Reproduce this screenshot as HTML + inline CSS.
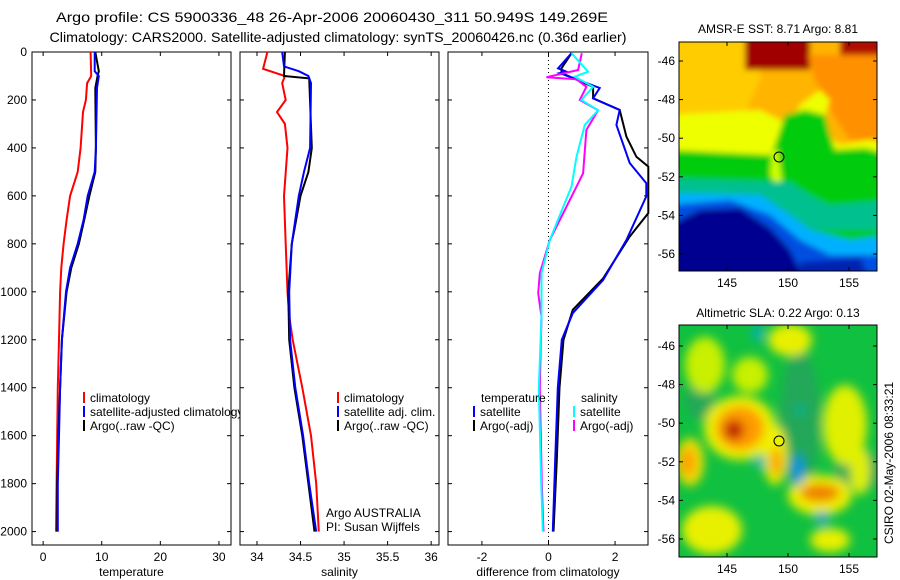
<!DOCTYPE html>
<html><head><meta charset="utf-8"><style>
body{margin:0;background:#fff;}
svg{display:block;font-family:"Liberation Sans",sans-serif;}
</style></head><body>
<svg id="fig" width="900" height="580" viewBox="0 0 900 580">
<defs>
<filter id="bl1" filterUnits="userSpaceOnUse" x="660" y="20" width="240" height="280"><feGaussianBlur stdDeviation="3"/></filter>
<filter id="bl2" filterUnits="userSpaceOnUse" x="660" y="300" width="240" height="280"><feGaussianBlur stdDeviation="5"/></filter>
<clipPath id="c1"><rect x="679" y="42" width="198" height="229"/></clipPath>
<clipPath id="c2"><rect x="679" y="325" width="198" height="232"/></clipPath>
</defs>
<text x="332" y="22" font-size="14" text-anchor="middle" textLength="552" lengthAdjust="spacingAndGlyphs">Argo profile: CS 5900336_48 26-Apr-2006 20060430_311 50.949S 149.269E</text>
<text x="338" y="42" font-size="14" text-anchor="middle" textLength="577" lengthAdjust="spacingAndGlyphs">Climatology: CARS2000. Satellite-adjusted climatology: synTS_20060426.nc (0.36d earlier)</text>
<g id="panels"></g>

<!-- SST map -->
<text x="778" y="33" font-size="12" text-anchor="middle">AMSR-E SST: 8.71 Argo: 8.81</text>
<g clip-path="url(#c1)">
<g filter="url(#bl1)">
<rect x="670" y="35" width="220" height="245" fill="#ffb400"/>
<polygon points="670,35 765,35 760,80 740,125 670,125" fill="#ffcc00"/>
<polygon points="745,35 810,35 810,70 745,70" fill="#a00000"/>
<polygon points="840,35 890,35 890,62 840,62" fill="#b01000"/>
<polygon points="808,55 890,55 890,140 850,140 830,110 815,80" fill="#ff9000"/>
<polygon points="670,115 760,110 790,125 800,105 820,90 830,100 820,130 840,145 870,140 890,145 890,185 670,185" fill="#eeff00"/>
<polygon points="670,150 770,155 775,145 785,115 805,110 825,115 830,135 835,150 865,148 890,155 890,260 670,260" fill="#00cc10"/>
<polygon points="772,150 778,150 782,180 776,185 770,175" fill="#ccff00"/>
<polygon points="670,178 790,182 810,195 830,205 890,200 890,230 670,230" fill="#00c090"/>
<polygon points="670,193 760,195 790,215 810,230 850,240 890,235 890,280 670,280" fill="#00b0ff"/>
<polygon points="670,205 730,200 770,215 800,240 830,255 890,255 890,280 670,280" fill="#0050e0"/>
<polygon points="670,225 700,210 740,208 770,228 790,250 800,270 800,280 670,280" fill="#000090"/>
<polygon points="800,262 860,258 870,280 800,280" fill="#0020b0"/>
</g>
</g>
<rect x="679" y="42" width="198" height="229" fill="none" stroke="#000"/>
<circle cx="779" cy="157" r="5" fill="none" stroke="#000"/>
<g id="m1ax"></g>

<!-- SLA map -->
<text x="778" y="317" font-size="12" text-anchor="middle">Altimetric SLA: 0.22 Argo: 0.13</text>
<g clip-path="url(#c2)">
<rect x="670" y="320" width="220" height="245" fill="#10c040"/>
<g filter="url(#bl2)">
<ellipse cx="800" cy="420" rx="20" ry="70" fill="#20a858"/>
<ellipse cx="860" cy="470" rx="25" ry="20" fill="#20a858"/>
<ellipse cx="700" cy="400" rx="15" ry="20" fill="#20a858"/>
<ellipse cx="705" cy="365" rx="20" ry="28" fill="#c8f000"/>
<ellipse cx="790" cy="340" rx="22" ry="16" fill="#e8f000"/>
<ellipse cx="750" cy="375" rx="18" ry="18" fill="#c8f000"/>
<ellipse cx="845" cy="425" rx="22" ry="40" fill="#e0f000"/>
<ellipse cx="860" cy="470" rx="10" ry="25" fill="#e0f000"/>
<ellipse cx="740" cy="428" rx="36" ry="32" fill="#eef000"/>
<ellipse cx="740" cy="428" rx="24" ry="22" fill="#ff9a00"/>
<ellipse cx="734" cy="430" rx="10" ry="10" fill="#c02000"/>
<ellipse cx="690" cy="462" rx="14" ry="24" fill="#f0e000"/>
<ellipse cx="688" cy="462" rx="7" ry="14" fill="#ff9a00"/>
<ellipse cx="775" cy="455" rx="12" ry="30" fill="#f0f000"/>
<ellipse cx="776" cy="462" rx="5" ry="14" fill="#ff9000"/>
<ellipse cx="820" cy="495" rx="32" ry="20" fill="#f0f000"/>
<ellipse cx="820" cy="493" rx="20" ry="9" fill="#f08000"/>
<ellipse cx="712" cy="530" rx="30" ry="24" fill="#e8f000"/>
<ellipse cx="830" cy="540" rx="20" ry="12" fill="#e8f000"/>
<ellipse cx="798" cy="470" rx="6" ry="16" fill="#1090e0"/>
<ellipse cx="760" cy="462" rx="6" ry="6" fill="#00b0c0"/>
<ellipse cx="822" cy="518" rx="6" ry="7" fill="#10a0d0"/>
<ellipse cx="758" cy="333" rx="5" ry="9" fill="#00b0c0"/>
<ellipse cx="800" cy="410" rx="5" ry="6" fill="#00b090"/>
</g>
</g>
<rect x="679" y="325" width="198" height="232" fill="none" stroke="#000"/>
<circle cx="779" cy="441" r="5" fill="#e8f000" stroke="#000"/>
<g id="m2ax"></g>
<text transform="translate(893,463) rotate(-90)" font-size="12" text-anchor="middle">CSIRO 02-May-2006 08:33:21</text>
</svg>
<script>
var NS="http://www.w3.org/2000/svg";
// ---- data ----
var tempClimDepth=[0,100,130,200,250,400,500,600,700,800,900,1000,1200,1400,1600,1800,2000];
var tempClimVal=[8.1,8.2,7.5,7.3,6.8,6.4,5.9,4.6,4.0,3.5,3.1,2.9,2.7,2.5,2.4,2.3,2.2];
var tempSatDepth=[0,80,100,150,400,500,600,700,800,900,1000,1200,1400,1600,1800,2000];
var tempSatVal=[8.8,8.8,9.5,9.2,9.0,8.8,7.6,6.9,5.9,4.6,3.9,3.2,2.9,2.7,2.5,2.5];
var tempArgoDepth=[0,80,100,150,400,500,600,700,800,900,1000,1200,1400,1600,1800,2000];
var tempArgoVal=[8.9,9.5,9.3,8.9,9.0,8.9,7.9,7.0,6.1,4.8,4.0,3.2,2.9,2.6,2.4,2.4];
var salClimDepth=[0,70,100,130,200,250,300,400,600,800,1000,1100,1200,1400,1600,1800,2000];
var salClimVal=[34.12,34.07,34.32,34.29,34.33,34.23,34.32,34.35,34.31,34.33,34.35,34.37,34.41,34.52,34.62,34.68,34.71];
var salSatDepth=[0,60,80,100,130,400,500,600,800,1000,1200,1400,1600,1800,2000];
var salSatVal=[34.29,34.31,34.48,34.59,34.62,34.61,34.54,34.48,34.40,34.37,34.38,34.44,34.53,34.60,34.68];
var salArgoDepth=[0,100,110,400,500,600,800,1000,1200,1400,1600,1800,2000];
var salArgoVal=[34.32,34.31,34.60,34.63,34.59,34.50,34.40,34.36,34.37,34.43,34.52,34.59,34.66];
var dTSatDepth=[5,68,82,88,150,193,242,304,463,547,602,784,951,1089,1200,1400,1700,2000];
var dTSatVal=[0.69,0.29,0.54,0.34,1.54,1.34,2.14,2.04,2.44,2.94,2.94,2.34,1.64,0.73,0.4,0.28,0.2,0.13];
var dTArgoDepth=[5,68,88,145,193,242,353,437,478,672,770,944,1075,1200,1400,1700,2000];
var dTArgoVal=[0.69,0.39,0.39,1.34,1.34,2.14,2.34,2.64,3.0,3.0,2.44,1.64,0.73,0.45,0.33,0.25,0.15];
var dSArgoDepth=[5,75,105,114,145,200,243,325,506,645,784,923,1006,1104,1400,1800,2000];
var dSArgoVal=[1.0,0.89,-0.06,0.84,1.14,0.94,1.49,1.14,1.04,0.54,0.04,-0.26,-0.31,-0.21,-0.26,-0.2,-0.15];
var dSSatDepth=[5,82,103,145,200,243,304,437,561,784,923,1104,1400,1800,2000];
var dSSatVal=[0.69,1.19,0.79,1.34,0.99,1.49,1.09,0.84,0.69,0.04,-0.21,-0.21,-0.29,-0.22,-0.17];
var depthTicks=[0,200,400,600,800,1000,1200,1400,1600,1800,2000];
var tempTicks=[0,10,20,30];
var salTicks=[34,34.5,35,35.5,36];
var diffTicks=[-2,0,2];
// ---- axes ----
function yD(d){return 52+d*0.2398;}
var P=[
 {x0:32,x1:231,v0:-1.9,v1:32.06,ticks:tempTicks,label:"temperature",name:"temperature-panel"},
 {x0:240,x1:439,v0:33.805,v1:36.09,ticks:salTicks,label:"salinity",name:"salinity-panel"},
 {x0:448,x1:648,v0:-3.02,v1:2.99,ticks:diffTicks,label:"difference from climatology",name:"difference-panel"}
];
function xS(p,v){return p.x0+(v-p.v0)/(p.v1-p.v0)*(p.x1-p.x0);}
var root=document.getElementById('panels');
function mk(tag,attrs,parent){var e=document.createElementNS(NS,tag);for(var k in attrs)e.setAttribute(k,attrs[k]);(parent||root).appendChild(e);return e;}
function txt(x,y,s,anchor,parent,size){var t=mk('text',{x:x,y:y,'font-size':size||12,'text-anchor':anchor||'start'},parent);t.textContent=s;return t;}
P.forEach(function(p,i){
 var g=mk('g',{});
 
 
 var bg=mk('rect',{x:p.x0,y:52,width:p.x1-p.x0,height:493,fill:'#fff',stroke:'#000'},g);
 
 
 p.g=g;
 depthTicks.forEach(function(d){
  var y=yD(d);
  mk('line',{x1:p.x0,x2:p.x0+4,y1:y,y2:y,stroke:'#000'},g);
  mk('line',{x1:p.x1-4,x2:p.x1,y1:y,y2:y,stroke:'#000'},g);
  if(i==0){var t=txt(27,y+4,String(d),'end',g);
   
   }
 });
 p.ticks.forEach(function(v){
  var x=xS(p,v);
  mk('line',{x1:x,x2:x,y1:52,y2:56,stroke:'#000'},g);
  mk('line',{x1:x,x2:x,y1:541,y2:545,stroke:'#000'},g);
  var t=txt(x,561,String(v),'middle',g);
  
  
 });
 var xl=txt((p.x0+p.x1)/2,576,p.label,'middle',g);
 
 
});
function line(p,ds,vs,color,name,w){
 var pts=ds.map(function(d,k){return xS(p,vs[k]).toFixed(1)+','+yD(d).toFixed(1);}).join(' ');
 var l=mk('polyline',{points:pts,fill:'none',stroke:color,'stroke-width':w||2,'stroke-linejoin':'miter'},p.g);
 
 
}
var z=mk('line',{x1:xS(P[2],0),x2:xS(P[2],0),y1:52,y2:545,stroke:'#000','stroke-dasharray':'1,3'},P[2].g);


line(P[0],tempClimDepth,tempClimVal,'#f00','temp-climatology-line');
line(P[0],tempArgoDepth,tempArgoVal,'#000','temp-argo-line');
line(P[0],tempSatDepth,tempSatVal,'#00f','temp-satellite-line');
line(P[1],salClimDepth,salClimVal,'#f00','sal-climatology-line');
line(P[1],salArgoDepth,salArgoVal,'#000','sal-argo-line');
line(P[1],salSatDepth,salSatVal,'#00f','sal-satellite-line');
line(P[2],dTArgoDepth,dTArgoVal,'#000','diff-temp-argo-line');
line(P[2],dTSatDepth,dTSatVal,'#00f','diff-temp-satellite-line');
line(P[2],dSArgoDepth,dSArgoVal,'#f0f','diff-sal-argo-line');
line(P[2],dSSatDepth,dSSatVal,'#0ff','diff-sal-satellite-line');
function leg(g,x,y,color,s){
 var b=mk('line',{x1:x,x2:x,y1:y-10,y2:y+1,stroke:color,'stroke-width':2},g);
 
 
 var t=txt(x+6,y,s,'start',g);
 
 
}
var lg1=mk('g',{});


P[0].g.insertBefore(lg1,P[0].g.children[1]);
leg(lg1,84,402,'#f00','climatology');
leg(lg1,84,416,'#00f','satellite-adjusted climatology');
leg(lg1,84,430,'#000','Argo(..raw -QC)');
root.appendChild(P[1].g);root.appendChild(P[2].g);
var lg2=mk('g',{},P[1].g);


leg(lg2,338,402,'#f00','climatology');
leg(lg2,338,416,'#00f','satellite adj. clim.');
leg(lg2,338,430,'#000','Argo(..raw -QC)');
var a1=txt(326,517,'Argo AUSTRALIA','start',P[1].g);


var a2=txt(326,531,'PI: Susan Wijffels','start',P[1].g);


var lg3=mk('g',{},P[2].g);


var h1=txt(481,402,'temperature','start',lg3);


var h2=txt(581,402,'salinity','start',lg3);


leg(lg3,474,416,'#00f','satellite');
leg(lg3,474,430,'#000','Argo(-adj)');
leg(lg3,574,416,'#0ff','satellite');
leg(lg3,574,430,'#f0f','Argo(-adj)');
var lonTicks=[145,150,155];
var latTicks=[-46,-48,-50,-52,-54,-56];
function mapAx(id,top,bot,lat46y,name){
 var g=document.getElementById(id);
 
 
 var sc=19.3;
 latTicks.forEach(function(l){
  var y=lat46y+(-46-l)*sc;
  mk('line',{x1:679,x2:683,y1:y,y2:y,stroke:'#000'},g);
  mk('line',{x1:873,x2:877,y1:y,y2:y,stroke:'#000'},g);
  var t=txt(675,y+4,String(l),'end',g);
  
  
 });
 lonTicks.forEach(function(l){
  var x=727+(l-145)*12.2;
  mk('line',{x1:x,x2:x,y1:top,y2:top+4,stroke:'#000'},g);
  mk('line',{x1:x,x2:x,y1:bot-4,y2:bot,stroke:'#000'},g);
  var t=txt(x,bot+16,String(l),'middle',g);
  
  
 });
}
mapAx('m1ax',42,271,61,'sst-map-axes');
mapAx('m2ax',325,557,346,'sla-map-axes');
</script>
</body></html>
